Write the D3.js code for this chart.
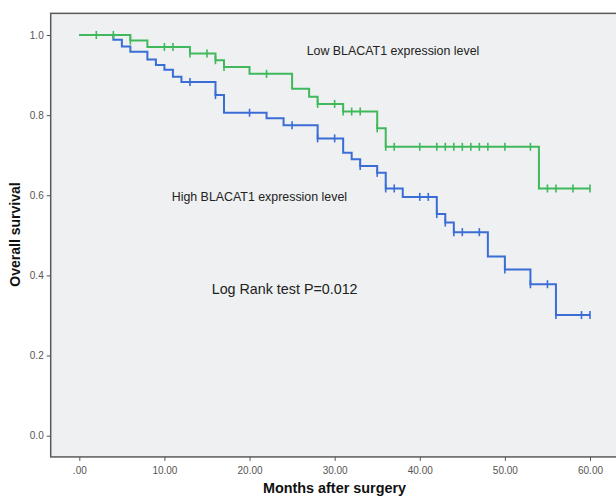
<!DOCTYPE html>
<html>
<head>
<meta charset="utf-8">
<style>
body { margin: 0; background: #fff; }
svg { display: block; font-family: "Liberation Sans", Arial, sans-serif; }
.axis text { fill: #555; font-size: 10px; }
.axis line { stroke: #555; }
.axis path { display: none; }
.note { fill: #222; }
.curve { fill: none; stroke-width: 2; }
</style>
</head>
<body>
<svg width="616" height="497"></svg>
<script src="https://d3js.org/d3.v7.min.js"></script>
<script>

// step times (months) and survival after each step
var lowTimes = [0, 6, 8, 13, 16, 17, 20, 25, 27, 28, 31, 35, 36, 54];
var lowSurv = [1.0, 0.986, 0.970, 0.954, 0.937, 0.920, 0.903, 0.866, 0.846, 0.828, 0.809, 0.767, 0.721, 0.617];
var lowCensor = [2, 4, 6, 10, 11, 13, 15, 16, 17, 22, 28, 30, 31, 32, 33, 35, 36, 37, 40, 42, 43, 44, 45, 46, 47, 48, 50, 53, 55, 56, 58, 60];

var highTimes = [0, 4, 5, 6, 8, 9, 10, 11, 12, 16, 17, 22, 24, 28, 31, 32, 33, 35, 36, 38, 42, 43, 44, 48, 50, 53, 56];
var highSurv = [1.0, 0.988, 0.971, 0.958, 0.939, 0.925, 0.913, 0.896, 0.883, 0.850, 0.806, 0.792, 0.775, 0.742, 0.706, 0.690, 0.673, 0.656, 0.617, 0.596, 0.553, 0.532, 0.508, 0.447, 0.415, 0.378, 0.301];
var highCensor = [13, 16, 20, 25, 28, 30, 33, 35, 36, 37, 40, 41, 42, 43, 44, 45, 47, 50, 53, 55, 56, 59, 60];

var xTicks = [0, 10, 20, 30, 40, 50, 60];
var yTicks = [0, 0.2, 0.4, 0.6, 0.8, 1.0];

var svg = d3.select("svg");

var x = d3.scaleLinear().domain([0, 60]).range([79.3, 590]);
var y = d3.scaleLinear().domain([0, 1]).range([435.7, 35]);

// frame edges (the right edge runs off the picture)
var frameL = x(-3.36), frameR = x(63.6), frameT = y(1.054), frameB = y(-0.053);

// plot background + frame
svg.append("rect")
  .attr("x", frameL).attr("y", frameT)
  .attr("width", frameR - frameL).attr("height", frameB - frameT)
  .attr("fill", "#eef0f1")
  .attr("stroke", "#5a5a5a")
  .attr("stroke-width", 1.5);

svg.append("g")
  .attr("class", "axis")
  .attr("transform", "translate(" + frameL + ",0)")
  .call(d3.axisLeft(y).tickValues(yTicks).tickSize(4).tickFormat(d3.format(".1f")));

svg.append("g")
  .attr("class", "axis")
  .attr("transform", "translate(0," + frameB + ")")
  .call(d3.axisBottom(x).tickValues(xTicks).tickSize(4).tickPadding(6)
    .tickFormat(function(d) { return d === 0 ? ".00" : d.toFixed(2); }));

// draw one KM curve with censor marks
function curve(times, surv, censor, color) {
  var pts = times.map(function(t, i) { return [t, surv[i]]; });
  pts.push([d3.max(censor), surv[surv.length - 1]]);

  var line = d3.line()
    .x(function(d) { return x(d[0]); })
    .y(function(d) { return y(d[1]); })
    .curve(d3.curveStepAfter);

  svg.append("path")
    .attr("class", "curve")
    .attr("stroke", color)
    .attr("d", line(pts));

  var bis = d3.bisector(function(d) { return d; }).right;
  svg.append("g").selectAll("line")
    .data(censor)
    .enter().append("line")
      .attr("x1", function(d) { return x(d); })
      .attr("x2", function(d) { return x(d); })
      .attr("y1", function(d) { return y(surv[bis(times, d) - 1]) - 4; })
      .attr("y2", function(d) { return y(surv[bis(times, d) - 1]) + 4; })
      .attr("stroke", color)
      .attr("stroke-width", 1.6);
}

curve(highTimes, highSurv, highCensor, "#3a6dd6");
curve(lowTimes, lowSurv, lowCensor, "#40b85c");

svg.append("text").attr("class", "note")
  .attr("x", 306.7).attr("y", 55)
  .style("font-size", "12.4px")
  .text("Low BLACAT1 expression level");

svg.append("text").attr("class", "note")
  .attr("x", 171.7).attr("y", 201)
  .style("font-size", "12.4px")
  .text("High BLACAT1 expression level");

svg.append("text").attr("class", "note")
  .attr("x", 211.7).attr("y", 293.5)
  .style("font-size", "14.3px")
  .text("Log Rank test P=0.012");

svg.append("text")
  .attr("transform", "translate(20,234.5) rotate(-90)")
  .attr("text-anchor", "middle")
  .style("font-size", "14px")
  .style("font-weight", "bold")
  .attr("fill", "#111")
  .text("Overall survival");

svg.append("text")
  .attr("x", 334.5).attr("y", 492.5)
  .attr("text-anchor", "middle")
  .style("font-size", "14.4px")
  .style("font-weight", "bold")
  .attr("fill", "#111")
  .text("Months after surgery");

</script>
</body>
</html>
